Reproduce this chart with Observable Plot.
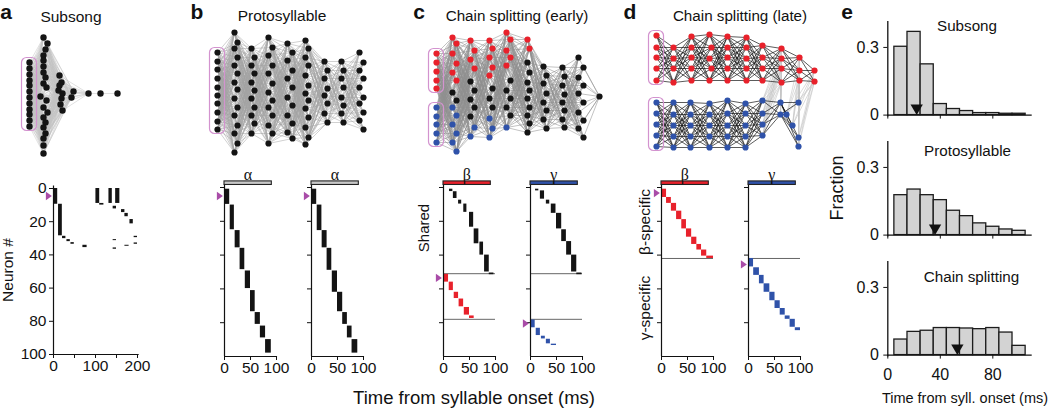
<!DOCTYPE html>
<html><head><meta charset="utf-8">
<script src="https://cdn.jsdelivr.net/npm/d3@7"></script>
<script src="https://cdn.jsdelivr.net/npm/@observablehq/plot@0.6"></script>
<style>
body{margin:0;background:#fff;}
#fig{position:relative;width:1050px;height:410px;overflow:hidden;background:#fff;color:#111;font-family:"Liberation Sans",Arial,Helvetica,sans-serif;}
</style></head>
<body><div id="fig"></div>
<script>
// ---------------- DATA ----------------
// Raster segments: [t start (ms), t end (ms), neuron start, neuron end]
const rasterA = [[2,10,0,9.5],[12,21,9.5,28.5],[21.5,29.5,28.8,30.2],[32,40,30.8,32],[41.5,49.5,32.6,33.6],[70,80,34.2,35.6],
  [101,110,0,9],[110,120,9,10],[132,140,0,9],[148,158,0,9],[142,150,10.7,12.3],[162,170,12.7,14.5],[170,178,15,17],[182,190,18.7,21.3],
  [142,150,30.8,31.4],[142,150,35.8,36.6],[170,180,34.2,34.8],[192,200,28.8,29.6],[192,200,32.8,33.6]];
const rasterB1 = [[1,10,1,10],[11,19,10.4,25],[20.5,30,25.5,35.7],[30,39,36,48.6],[40,50,49.4,59.8],[50,59,61,73.5],[59,69,74,81],[69,79,82,89],[79,90,90,98]];
const rasterB2 = [[1,10,1,10],[11,20,10.4,25.5],[20.5,30,25.5,35.7],[30,39,36,49],[40,50,49.4,62],[50,60,62,73.5],[60,69,74,81],[69,78,82,89],[78,89,90,98]];
const rasterC1shared = [[11.6,18,1,2.4],[19,26,2.5,6.5],[29,35,7.5,9.8],[39,45,9.8,14.7],[50,58,14.7,23.5],[59,68,24.5,33.3],[70,77,32.3,40],[79,88,40,50],[88,97,50.6,51.6]];
const rasterC1beta = [[0,9.7,51.4,56],[11,19,56,61],[20.6,29,62,65.7],[30,38.7,66,70.6],[40,50,71,75.5],[50,59,76,77.5]];
const rasterC2shared = [[9.7,16,1,2],[19,27,2,6.9],[30.5,37,7.5,9.8],[40,49,9.8,15.3],[50,60,15.3,24.5],[60,69,25,32],[69.5,79,32,40],[79,89,40,50],[89,99,50.6,51.6]];
const rasterC2gamma = [[0,9,78.4,83],[11,19,83.3,87.6],[21,28.5,88,89.6],[30.5,38.3,89.8,92.5],[40,50,92.7,93.5]];
const rasterD1beta = [[0,9.7,1,5.9],[9.7,19,5.9,9.4],[19,29,9.4,14],[29,39,14,19],[39,48,19,24.5],[48,58,24.5,29.4],[58,68,29.4,33.7],[68,77,33.7,37],[77,87,37,40.6],[87,100,40.6,42]];
const rasterD2gamma = [[0,9.7,42,47],[10,21,47.5,52],[21,30,52,57],[30,41,57,62],[41,51,62,67],[51,61,67,71.6],[61,70.6,71.6,75.5],[70.6,80,76,78],[80,90,78,82.7],[90,100,83,84.7]];
const groupBoundsC = [51, 78];
const groupBoundsD = [42];
const startNeuron = {a:4.5, b1:5, b2:5, c1:53.5, c2:80.5, d1:3.3, d2:45.5};
const sylLabels = ["α","α","β","γ","β","γ"];

// Histograms (panel e)
const binEdges = [5,15,25,35,45,55,65,75,85,95,105];
const subsongFrac = [0.303,0.369,0.225,0.049,0.027,0.018,0.009,0.009,0.006,0.006];
const protoFrac = [0.177,0.202,0.177,0.155,0.108,0.084,0.052,0.037,0.025,0.019];
const chainFrac = [0.069,0.103,0.108,0.120,0.120,0.118,0.115,0.120,0.100,0.041];
const meanLatency = [22, 36, 53];
const histTitles = ["Subsong","Protosyllable","Chain splitting"];

// Network layouts: columns (layers) of nodes; xs layer position(s), ys node positions, c colour codes
const netA = [
 {xs:[29], ys:[62,68,74,80,85,91,97,103,109,114,120,126]},
 {xs:[43,47,45,43,43,43,43,45,43,46,40,46,43,47,43,45,43,45,43,43,43], ys:[37,43,49,55,60,66,72,77,83,87,96,100,107,112,117,122,127,133,138,145,153]},
 {xs:[59,61,59,58,62,61,60,62], ys:[75,82,85,90,93,98,104,110]},
 {xs:[73,71], ys:[91,97]},
 {xs:[88], ys:[93]},
 {xs:[100], ys:[93]},
 {xs:[117], ys:[93]}
];
const netALinks = [[0,1],[1,2],[2,3],[1,3],[2,4],[3,4],[4,5],[5,6]];
const netB = [
 {xs:[217], ys:[52,61,69,78,87,95,103,112,121,129]},
 {xs:[234,237], ys:[32,42,48,57,65,73,82,89,98,107,115,125,133,143,152]},
 {xs:[251,254], ys:[48,57,65,73,82,90,98,107,115,123,133]},
 {xs:[268,272], ys:[37,47,55,65,73,83,92,100,107,115,125,133,143]},
 {xs:[287,292], ys:[43,52,60,70,78,87,97,105,115,123,132,138]},
 {xs:[305,308], ys:[40,48,57,65,75,85,93,100,108,117,127,137,144]},
 {xs:[324,327], ys:[61,70,78,88,95,103,113,122]},
 {xs:[341,343], ys:[61,70,78,87,97,105,113,122]},
 {xs:[359,363], ys:[52,62,70,78,87,97,103,112,120,129]}
];
const netC = [
 {xs:[436], ys:[53,62,71,80,88,107,116,124,133,142], c:"rrrrrbbbbb"},
 {xs:[452,456], ys:[37,43,53,63,72,80,92,100,107,115,124,133,142,151], c:"rrrrrrkkbbbbbb"},
 {xs:[470,474], ys:[40,50,59,68,81,90,99,107,116,127,136], c:"rrrrkkkkkbb"},
 {xs:[489,492], ys:[40,48,57,67,75,88,98,107,118,128,137], c:"rrrrrkkkbbb"},
 {xs:[506,510], ys:[32,39,50,57,65,80,90,98,107,115,127], c:"rrrrrkkkkkb"},
 {xs:[527,529], ys:[39,48,62,72,82,90,98,107,115,123,132], c:"rrkkkkkkkkk"},
 {xs:[543,546], ys:[66,75,83,93,102,110,119,128], c:"k"},
 {xs:[562,564], ys:[67,76,85,94,102,110,119,127], c:"k"},
 {xs:[578,583], ys:[57,67,77,85,93,102,112,120,128,137], c:"k"},
 {xs:[599], ys:[96], c:"k"}
];
const netDred = [
 {xs:[656], ys:[35,47,57,68,80], c:"r"},
 {xs:[673], ys:[47,58,68,82], c:"r"},
 {xs:[691], ys:[36,47,57,68,80], c:"r"},
 {xs:[709,711], ys:[34,47,58,68,80], c:"r"},
 {xs:[727], ys:[36,47,57,68,80], c:"r"},
 {xs:[746], ys:[37,47,58,68,80], c:"r"},
 {xs:[762], ys:[45,57,68,80], c:"r"},
 {xs:[781], ys:[48,58,68,82], c:"r"},
 {xs:[799], ys:[57,70,80], c:"r"},
 {xs:[814], ys:[70,81], c:"r"}
];
const netDblue = [
 {xs:[656], ys:[102,113,124,135,146], c:"b"},
 {xs:[673], ys:[102,114,125,136,147], c:"b"},
 {xs:[690], ys:[102,114,125,136,147], c:"b"},
 {xs:[709], ys:[103,114,125,136,147], c:"b"},
 {xs:[727], ys:[100,113,125,136,147], c:"b"},
 {xs:[745], ys:[103,113,125,136,147], c:"b"},
 {xs:[762], ys:[100,113,124,135], c:"b"},
 {xs:[780], ys:[102,114], c:"b"},
 {xs:[798,786,792,798,798], ys:[102,114,125,137,146], c:"b"}
];
const netDcross = [[7,6],[7,7],[8,8],[9,8]];

// ---------------- HELPERS ----------------
const FONT = '"Liberation Sans", Arial, Helvetica, sans-serif';
const SERIF = '"Liberation Serif", "Times New Roman", serif';
const MAG = "#a94ca8", BOX = "#d393cf";
const COL = {k:"#141414", r:"#e8212b", b:"#2f52a9"};
const fig = document.getElementById("fig");
const baseStyle = {fontFamily: FONT, fontSize: "15px", color: "#111", background: "transparent", overflow: "visible"};

function place(node, left, top) {
  node.style.position = "absolute";
  node.style.left = left + "px";
  node.style.top = top + "px";
  fig.appendChild(node);
}
function txt(s, x, y, o = {}) {
  const d = document.createElement("div");
  d.textContent = s;
  d.style.cssText = `position:absolute;left:${x}px;top:${y}px;font-weight:${o.weight||"normal"};font-size:${o.size||15}px;font-family:${o.family||FONT};white-space:nowrap;line-height:1;color:#111;transform:translate(-50%,-50%) rotate(${o.rotate||0}deg);`;
  fig.appendChild(d);
}
const triRight = {draw(ctx, size){ const r = Math.sqrt(size/Math.PI); ctx.moveTo(0,0); ctx.lineTo(-2*r,-1.4*r); ctx.lineTo(-2*r,1.4*r); ctx.closePath(); }};
const triDown = {draw(ctx, size){ const r = Math.sqrt(size/Math.PI); ctx.moveTo(0,0); ctx.lineTo(-1.37*r,-2.35*r); ctx.lineTo(1.37*r,-2.35*r); ctx.closePath(); }};

function raster(o) {
  const ML = 40, MT = 30, MR = 18, MB = 34;
  const W = ML + o.rangeW + MR, H = MT + (o.botY - o.topY) + MB;
  const marks = [];
  if (o.rules) marks.push(Plot.ruleY(o.rules, {x1: 0, x2: o.xMax, stroke: "#555", strokeWidth: 0.9}));
  for (const s of o.series) marks.push(Plot.rect(s.segs, {x1: d => d[0], x2: d => d[1], y1: d => d[2], y2: d => d[3], fill: s.color}));
  marks.push(Plot.ruleX([0], {y1: -1.5, y2: 100, stroke: "#111", strokeWidth: 1.2}));
  marks.push(Plot.ruleY([100], {x1: 0, x2: o.xMax * 1.02, stroke: "#111", strokeWidth: 1.2}));
  marks.push(Plot.axisY({ticks: o.yTicks, tickSize: 4, tickPadding: 3, tickFormat: o.yFmt, fontSize: 15.5, label: null}));
  marks.push(Plot.axisX({ticks: o.xTicks, tickSize: 4, tickPadding: 1, tickFormat: o.xFmt, fontSize: 15.5, label: null}));
  if (o.syl) {
    marks.push(Plot.rect([o.syl], {x1: 0, x2: 91, y1: -3.6, y2: -1.5, fill: o.syl.color, stroke: "#222", strokeWidth: 1.1}));
    marks.push(Plot.text([o.syl.name], {x: 45, y: -7.6, text: d => d, fontSize: 16, fontFamily: SERIF}));
  }
  if (o.tri != null) marks.push(Plot.dot([o.tri], {x: 0, y: d => d, symbol: triRight, r: 3, dx: -1.6, fill: MAG}));
  const p = Plot.plot({width: W, height: H, marginLeft: ML, marginTop: MT, marginRight: MR, marginBottom: MB,
    x: {domain: [0, o.xMax]}, y: {domain: [100, 0]}, style: baseStyle, marks});
  place(p, o.axisX - ML, o.topY - MT);
}

function expand(cols) {
  return cols.map((col, ci) => col.ys.map((y, k) => {
    const cs = col.c || "k";
    return {col: ci, x: col.xs.length === col.ys.length ? col.xs[k] : col.xs[k % col.xs.length], y,
            c: cs.length === col.ys.length ? cs[k] : cs[0]};
  }));
}
function linksBetween(A, B) {
  const out = [];
  for (const a of A) for (const b of B) out.push({x1: a.x, y1: a.y, x2: b.x, y2: b.y});
  return out;
}
function inputBoxes(nodes) {
  const groups = d3.groups(nodes, d => d.c);
  return groups.map(([c, g]) => ({x1: d3.min(g, d => d.x) - 7.5, x2: d3.max(g, d => d.x) + 7.5, y1: d3.min(g, d => d.y) - 4.5, y2: d3.max(g, d => d.y) + 4.5}));
}
function network(o) {
  const marks = [];
  for (const e of o.edges) marks.push(Plot.link(e.list, {x1: "x1", y1: "y1", x2: "x2", y2: "y2", stroke: e.color, strokeWidth: e.width, strokeOpacity: e.opacity ?? 1}));
  marks.push(Plot.rect(o.boxes, {x1: "x1", x2: "x2", y1: "y1", y2: "y2", rx: 5, fill: "none", stroke: BOX, strokeWidth: 1.2}));
  marks.push(Plot.dot(o.nodes, {x: "x", y: "y", r: o.r, fill: d => COL[d.c]}));
  const p = Plot.plot({width: o.width, height: o.height, margin: 0,
    x: {domain: [o.left, o.left + o.width], range: [0, o.width], axis: null},
    y: {domain: [o.top, o.top + o.height], range: [0, o.height], axis: null},
    style: baseStyle, marks});
  place(p, o.left, o.top);
}

function hist(fracs, mean, baseY, showX) {
  const MT = 20, PH = 93.6, MB = 34, ML = 40.3, W = 200, PW = 144.4;
  const data = fracs.map((f, i) => ({x1: binEdges[i], x2: binEdges[i + 1], f}));
  const p = Plot.plot({width: W, height: MT + PH + MB, marginTop: MT, marginBottom: MB, marginLeft: ML, marginRight: W - ML - PW,
    x: {domain: [0, 110]}, y: {domain: [0, 0.415]}, style: baseStyle,
    marks: [
      Plot.rect(data, {x1: "x1", x2: "x2", y1: 0, y2: "f", fill: "#d3d3d3", stroke: "#1c1c1c", strokeWidth: 1.3}),
      Plot.ruleX([0], {y1: -0.008, y2: 0.415, stroke: "#111", strokeWidth: 1.3}),
      Plot.ruleY([0], {x1: 0, x2: 110, stroke: "#111", strokeWidth: 1.3}),
      Plot.axisY({ticks: [0, 0.3], tickSize: 4, tickPadding: 5, tickFormat: d => d === 0 ? "0" : "0.3", fontSize: 16, label: null}),
      Plot.axisX({ticks: [0, 40, 80], tickSize: 4, tickPadding: 10, tickFormat: showX ? d => String(d) : () => "", fontSize: 16, label: null}),
      Plot.dot([mean], {x: d => d, y: 0, symbol: triDown, r: 4.5, fill: "#111"})
    ]});
  place(p, 887.3 - ML, baseY - PH - MT);
}

// ---------------- NETWORKS ----------------
{
  const cols = expand(netA);
  const edges = netALinks.flatMap(([i, j]) => linksBetween(cols[i], cols[j]));
  network({left: 10, top: 28, width: 120, height: 132, nodes: cols.flat(), r: 3.2, boxes: inputBoxes(cols[0]),
           edges: [{list: edges, color: "#c2c2c2", width: 0.5}]});
}
{
  const cols = expand(netB);
  const edges = cols.slice(1).flatMap((c, i) => linksBetween(cols[i], c));
  network({left: 200, top: 25, width: 175, height: 135, nodes: cols.flat(), r: 3.1, boxes: inputBoxes(cols[0]),
           edges: [{list: edges, color: "#a3a3a3", width: 0.5}]});
}
{
  const cols = expand(netC);
  const edges = cols.slice(1).flatMap((c, i) => linksBetween(cols[i], c));
  network({left: 420, top: 25, width: 190, height: 135, nodes: cols.flat(), r: 3.1, boxes: inputBoxes(cols[0]),
           edges: [{list: edges, color: "#8f8f8f", width: 0.55}]});
}
{
  const R = expand(netDred), B = expand(netDblue);
  const er = R.slice(1).flatMap((c, i) => linksBetween(R[i], c));
  const eb = B.slice(1).flatMap((c, i) => linksBetween(B[i], c));
  const ex = netDcross.flatMap(([i, j]) => linksBetween(R[i], B[j]));
  network({left: 640, top: 25, width: 185, height: 135, nodes: [...R.flat(), ...B.flat()], r: 3.1,
           boxes: [...inputBoxes(R[0]), ...inputBoxes(B[0])],
           edges: [{list: ex, color: "#c4c4c4", width: 0.6}, {list: er, color: "#151515", width: 0.7}, {list: eb, color: "#151515", width: 0.7}]});
}

// ---------------- RASTERS ----------------
const noLab = () => "";
raster({axisX: 53, topY: 188, botY: 354, rangeW: 84, xMax: 200, xTicks: [0,50,100,150,200], xFmt: d => d % 100 === 0 ? String(d) : "",
        yTicks: [0,20,40,60,80,100], yFmt: d => String(d), series: [{segs: rasterA, color: COL.k}], tri: startNeuron.a});
const std = {topY: 187, botY: 356, rangeW: 52, xMax: 100, xTicks: [0,50,100], xFmt: d => String(d), yTicks: [0,20,40,60,80], yFmt: noLab};
raster({...std, axisX: 223.5, series: [{segs: rasterB1, color: COL.k}], syl: {name: sylLabels[0], color: "#c8c8c8"}, tri: startNeuron.b1});
raster({...std, axisX: 310.7, series: [{segs: rasterB2, color: COL.k}], syl: {name: sylLabels[1], color: "#c8c8c8"}, tri: startNeuron.b2});
raster({...std, axisX: 442.7, rules: groupBoundsC, series: [{segs: rasterC1shared, color: COL.k}, {segs: rasterC1beta, color: COL.r}], syl: {name: sylLabels[2], color: COL.r}, tri: startNeuron.c1});
raster({...std, axisX: 530, rules: groupBoundsC, series: [{segs: rasterC2shared, color: COL.k}, {segs: rasterC2gamma, color: COL.b}], syl: {name: sylLabels[3], color: COL.b}, tri: startNeuron.c2});
raster({...std, axisX: 661, rules: groupBoundsD, series: [{segs: rasterD1beta, color: COL.r}], syl: {name: sylLabels[4], color: COL.r}, tri: startNeuron.d1});
raster({...std, axisX: 748.3, rules: groupBoundsD, series: [{segs: rasterD2gamma, color: COL.b}], syl: {name: sylLabels[5], color: COL.b}, tri: startNeuron.d2});

// ---------------- HISTOGRAMS ----------------
hist(subsongFrac, meanLatency[0], 115, false);
hist(protoFrac, meanLatency[1], 235, false);
hist(chainFrac, meanLatency[2], 354.3, true);

// ---------------- TEXT ----------------
txt("a", 6, 11, {size: 21, weight: "bold"});
txt("b", 197, 11, {size: 21, weight: "bold"});
txt("c", 419, 11, {size: 21, weight: "bold"});
txt("d", 630, 11, {size: 21, weight: "bold"});
txt("e", 847, 11, {size: 21, weight: "bold"});
txt("Subsong", 71, 17, {size: 15.5});
txt("Protosyllable", 282, 16, {size: 15.5});
txt("Chain splitting (early)", 517, 16, {size: 15.2});
txt("Chain splitting (late)", 740, 16, {size: 15.2});
txt(histTitles[0], 967, 26, {size: 15.2});
txt(histTitles[1], 967.5, 151, {size: 15.2});
txt(histTitles[2], 971.5, 277, {size: 15.2});
txt("Neuron #", 8, 270, {size: 15.5, rotate: -90});
txt("Shared", 423, 227.5, {size: 15, rotate: -90});
txt("β-specific", 645, 221.7, {size: 15.5, rotate: -90});
txt("γ-specific", 645, 308, {size: 15.5, rotate: -90});
txt("Fraction", 836.7, 187.5, {size: 18, rotate: -90});
txt("Time from syllable onset (ms)", 474, 398, {size: 18.5});
txt("Time from syll. onset (ms)", 965, 398, {size: 14.5});
</script>
</body></html>
